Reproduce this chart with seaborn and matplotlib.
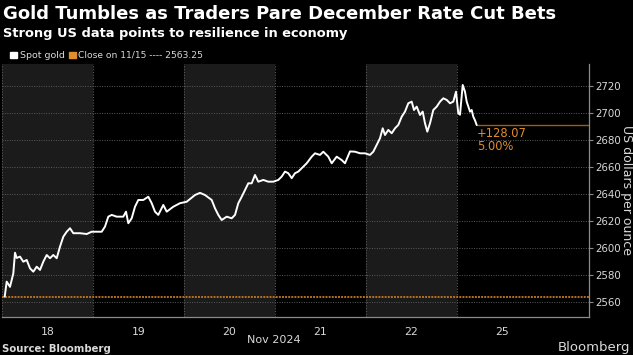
import numpy as np
import pandas as pd
import matplotlib
matplotlib.use("Agg")
import matplotlib.pyplot as plt
import seaborn as sns

# ---- data (x in trading-day units from start of Nov 18) ----
pos_px = [4.7, 6.7, 10, 13.3, 15, 16.7, 20, 23.3, 26.7, 30, 33.3, 36.7, 40, 43.3, 46.7, 50, 53.3, 56.7,
          60, 63.3, 66.7, 70, 73.3, 80, 86.7, 91.7, 96.7, 101.7, 105, 108.3, 111.7, 116.7, 123.3, 126,
          128.3, 131.7, 135, 138.3, 143.3, 148.3, 151.7, 155, 158.3, 163.3, 166.7, 173.3, 180, 186.7,
          195, 200, 205, 211.7, 215, 218.3, 221.7, 226.7, 231.7, 235, 238.3, 241.7, 245, 248.3, 251.7,
          255, 258.3, 263.3, 268.3, 273.3, 278.3, 281.7, 285, 288.3, 291.7, 295, 298.3, 303.3, 306.7,
          311.7, 315, 320, 323.3, 328.3, 331.7, 336.7, 341.7, 345, 350, 355, 360, 365, 370, 373.3,
          376.7, 380, 382.7, 385, 388.3, 391.7, 395, 398.3, 401.7, 405, 408.3, 411.7, 414, 416.7, 420,
          422.7, 425, 427.3, 430, 433.3, 436.7, 440, 443.3, 446.7, 450, 453.3, 456, 458.3, 460, 462.7,
          465, 466.7, 468.3, 470, 471.7, 473.3, 475, 476.7]
spot_gold = [2563.7, 2574.9, 2571.0, 2581.0, 2596.4, 2592.5, 2593.5, 2589.7, 2591.0, 2584.8, 2582.3, 2586.0,
             2583.6, 2589.7, 2594.7, 2592.3, 2594.7, 2592.3, 2600.9, 2608.3, 2612.0, 2614.6, 2610.9, 2610.9,
             2610.3, 2612.0, 2612.0, 2612.0, 2615.8, 2623.2, 2624.5, 2623.2, 2623.2, 2626.9, 2618.3, 2622.0,
             2630.6, 2635.6, 2635.6, 2638.0, 2633.2, 2626.9, 2624.5, 2631.9, 2626.9, 2630.6, 2633.2, 2634.3,
             2639.3, 2640.9, 2639.3, 2635.6, 2629.4, 2624.5, 2620.7, 2623.2, 2622.0, 2624.5, 2633.2, 2638.0,
             2643.0, 2648.0, 2648.0, 2654.2, 2649.2, 2650.5, 2649.2, 2649.2, 2650.5, 2653.0, 2656.7, 2655.5,
             2651.8, 2655.5, 2656.7, 2660.4, 2662.9, 2667.8, 2670.3, 2669.1, 2671.5, 2667.8, 2662.9, 2667.8,
             2665.3, 2662.9, 2671.7, 2671.5, 2670.3, 2670.3, 2669.1, 2671.5, 2676.5, 2681.5, 2688.9, 2683.9,
             2687.7, 2685.2, 2688.9, 2691.4, 2697.5, 2701.3, 2707.5, 2708.7, 2702.5, 2705.0, 2698.8, 2701.3,
             2692.6, 2686.4, 2692.6, 2702.5, 2705.0, 2708.7, 2711.2, 2710.0, 2707.5, 2708.7, 2716.1, 2700.0,
             2699.0, 2721.1, 2716.1, 2708.7, 2705.0, 2701.3, 2702.5, 2697.5, 2694.8, 2691.3]
day_len_px = 91.0
x_days = [(p - 2.0) / day_len_px for p in pos_px]

day_labels = ["18", "19", "20", "21", "22", "25"]
y_ticks = [2560, 2580, 2600, 2620, 2640, 2660, 2680, 2700, 2720]
close_value = 2563.25
change_abs = "+128.07"
change_pct = "5.00%"

df = pd.DataFrame({"t": x_days, "price": spot_gold})

# ---- style ----
sns.set_theme(style="dark")
plt.rcParams["font.family"] = ["DejaVu Sans"]
BG = "#000000"
SHADE = "#1b1b1b"
GRID = "#5a5a5a"
TXT = "#d9d9d9"
ORANGE = "#e08d2f"

W, H = 633, 355
fig = plt.figure(figsize=(W / 100, H / 100), dpi=100, facecolor=BG)
ax = fig.add_axes([2 / W, 1 - 317 / H, (589 - 2) / W, (317 - 64) / H])
ax.set_facecolor(BG)

xmax = (589 - 2) / day_len_px
ax.set_xlim(0, xmax)
ax.set_ylim(2548.6, 2736.7)

# alternating day shading
for i in range(len(day_labels)):
    if i % 2 == 0:
        ax.axvspan(i, i + 1, color=SHADE, lw=0, zorder=0)
for i in range(len(day_labels)):
    ax.axvline(i, color=GRID, lw=0.8, ls=(0, (1, 1.5)), zorder=1)
for v in y_ticks:
    ax.axhline(v, color=GRID, lw=0.7, ls=(0, (1, 1.5)), zorder=1)

# close line
ax.axhline(close_value, color="#b8701f", lw=1.4, ls=(0, (1, 0.6)), zorder=2)

sns.lineplot(data=df, x="t", y="price", ax=ax, color="white", lw=1.4, zorder=4, legend=False)

last_t, last_p = x_days[-1], spot_gold[-1]
ax.plot([last_t, xmax], [last_p, last_p], color="#9a5c1c", lw=1.0, zorder=3)
ax.annotate(change_abs, (last_t, last_p), xytext=(0, -1.5), textcoords="offset points",
            ha="left", va="top", color=ORANGE, fontsize=8.3)
ax.annotate(change_pct, (last_t, last_p), xytext=(0, -11), textcoords="offset points",
            ha="left", va="top", color=ORANGE, fontsize=8.3)

# axes
for s in ["top", "left"]:
    ax.spines[s].set_visible(False)
for s in ["right", "bottom"]:
    ax.spines[s].set_visible(True)
    ax.spines[s].set_color("#8a8a8a")
    ax.spines[s].set_linewidth(0.9)
ax.yaxis.tick_right()
ax.set_yticks(y_ticks)
ax.set_yticklabels([str(v) for v in y_ticks])
ax.tick_params(axis="y", which="both", right=True, left=False, length=3, width=0.8,
               color="#8a8a8a", labelcolor=TXT, labelsize=7.4, pad=1.5)
ax.set_xticks([i + 0.5 for i in range(len(day_labels))])
ax.set_xticklabels(day_labels)
ax.tick_params(axis="x", bottom=False, labelcolor=TXT, labelsize=7.8, pad=1.5)
ax.set_xlabel("")
ax.set_ylabel("")
ax.grid(False)

fig.text(627 / W, 1 - 190 / H, "US dollars per ounce", rotation=270, color=TXT, fontsize=9,
         ha="center", va="center")

# texts
fig.text(3 / W, 1 - 14 / H, "Gold Tumbles as Traders Pare December Rate Cut Bets",
         color="white", fontsize=13, fontweight="bold", ha="left", va="center")
fig.text(3 / W, 1 - 33 / H, "Strong US data points to resilience in economy",
         color="white", fontsize=9.4, fontweight="bold", ha="left", va="center")
fig.patches.append(plt.Rectangle((10 / W, 1 - 58 / H), 6.5 / W, 6.5 / H, transform=fig.transFigure,
                                 color="white", figure=fig))
fig.text(19.5 / W, 1 - 55 / H, "Spot gold", color=TXT, fontsize=6.8, ha="left", va="center")
fig.patches.append(plt.Rectangle((69 / W, 1 - 58 / H), 6.5 / W, 6.5 / H, transform=fig.transFigure,
                                 color=ORANGE, figure=fig))
fig.text(78 / W, 1 - 55 / H, f"Close on 11/15 ---- {close_value:.2f}", color=TXT, fontsize=6.6,
         ha="left", va="center")
fig.text(274 / W, 1 - 340 / H, "Nov 2024", color=TXT, fontsize=8, ha="center", va="center")
fig.text(2 / W, 1 - 349.5 / H, "Source: Bloomberg", color=TXT, fontsize=7.3, fontweight="bold",
         ha="left", va="center")
fig.text(630 / W, 1 - 348 / H, "Bloomberg", color=TXT, fontsize=9.5, ha="right", va="center")

fig.savefig("out.png", dpi=100, facecolor=BG)
